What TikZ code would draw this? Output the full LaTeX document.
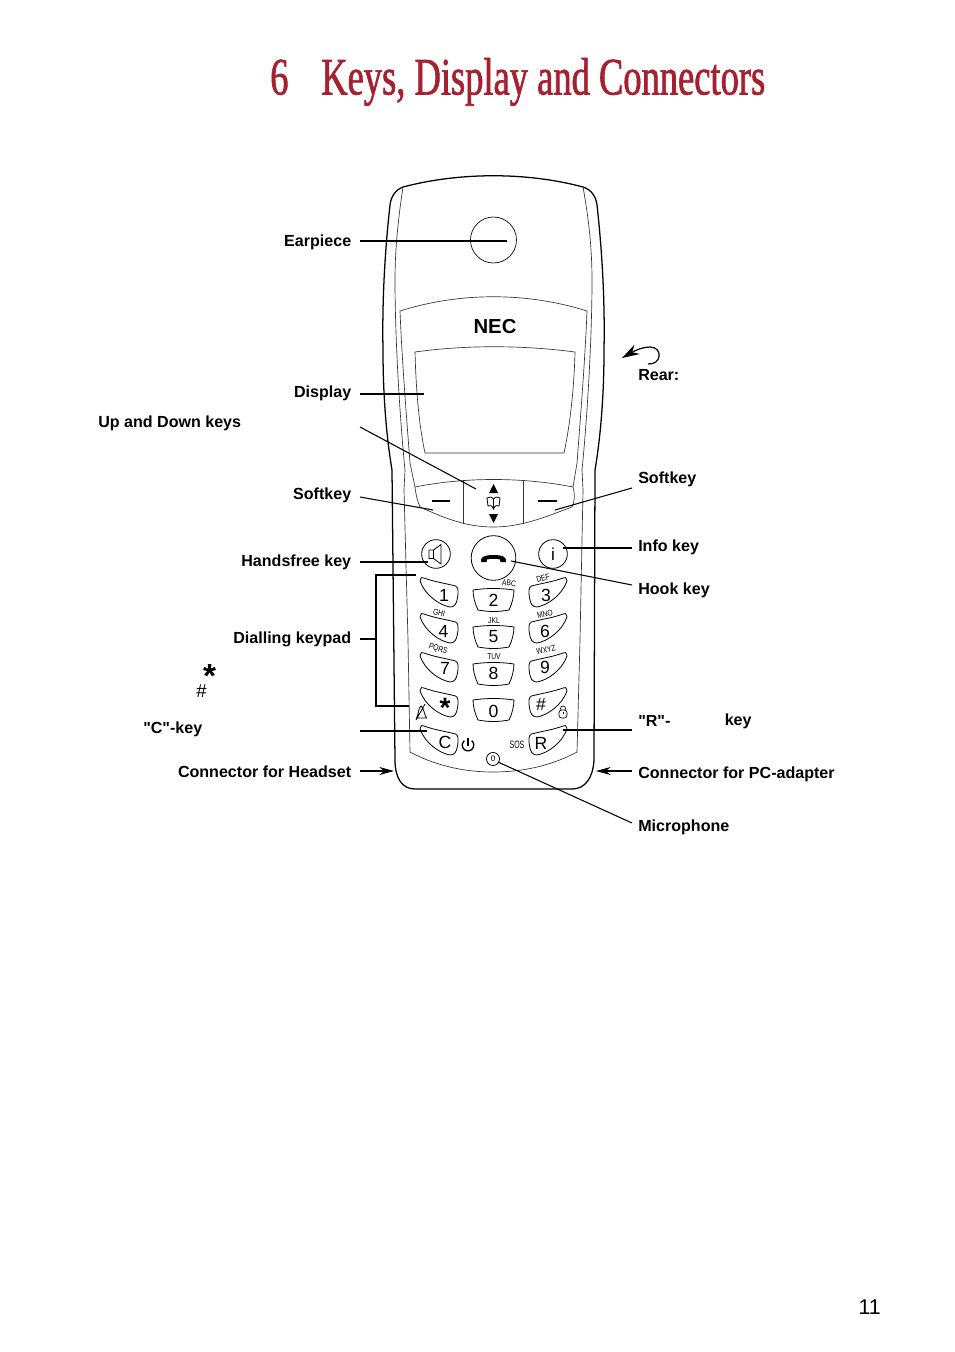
\documentclass[tikz,border=0pt]{standalone}
\usepackage{fontspec}
\setmainfont{Liberation Sans}
\newfontfamily\titlefont[FakeStretch=0.693,FakeBold=1.2]{Liberation Serif}
\newfontfamily\narrowfont[FakeStretch=0.8]{Liberation Sans}
\newfontfamily\sosfont[FakeStretch=0.65]{Liberation Sans}
\newfontfamily\qfont{Liberation Sans}
\usetikzlibrary{arrows.meta}
\definecolor{titlered}{HTML}{A6202F}
\newcommand{\dq}{{\qfont\bfseries\char34\relax}}
\tikzset{
  body/.style={line width=0.95pt,line join=round},
  panel/.style={line width=0.5pt,draw=black!80},
  leader/.style={line width=0.8pt,black},
  arrowed/.style={leader,-{Stealth[length=11pt,width=6pt]}},
  lblL/.style={anchor=east,inner ysep=0pt,inner xsep=6.4pt,font=\bfseries\fontsize{12.05}{14}\selectfont,text depth=3pt},
  lblR/.style={anchor=west,inner ysep=0pt,inner xsep=4.5pt,font=\bfseries\fontsize{12.05}{14}\selectfont,text depth=3pt},
  plain/.style={anchor=base west,inner sep=0pt,font=\bfseries\fontsize{12.05}{14}\selectfont},
  keyshape/.style={line width=0.6pt},
  digit/.style={inner sep=0pt,font=\fontsize{13.2}{14}\selectfont},
  tiny/.style={inner sep=0pt,font=\narrowfont\fontsize{6.3}{7}\selectfont},
}
\newcommand{\sidekey}{(0,3) .. controls (1,-1) and (2,-1) .. (4,0) .. controls (15,4) and (24,5) .. (35.5,8) .. controls (38.5,9) and (38.5,14) .. (37.5,20) .. controls (36.5,26) and (34.5,29) .. (30,29) .. controls (19,27) and (5,17) .. (0,3) -- cycle}
\newcommand{\keyL}[2]{\draw[keyshape,shift={(420,#1)}] \sidekey;}
\newcommand{\keyR}[2]{\draw[keyshape,shift={(567,#1)},xscale=-1] \sidekey;}
\newcommand{\keyM}[1]{\draw[keyshape,shift={(473,#1)}] (0,2) .. controls (13,0) and (28,0) .. (41,2) .. controls (41,8) and (39,16) .. (36,22) .. controls (25,24) and (16,24) .. (5,22) .. controls (2,16) and (0,8) .. (0,2) -- cycle;}
\begin{document}
\begin{tikzpicture}[x=0.75pt,y=-0.75pt]
\path[use as bounding box] (0,0) rectangle (954,1352);
% title
\node[anchor=base west,inner sep=0pt,text=titlered,font=\titlefont\fontsize{39.5}{42}\selectfont] (num) at (270,94.5) {6};
\node[anchor=base west,inner sep=0pt,text=titlered,font=\titlefont\fontsize{39.5}{42}\selectfont] (title) at (321,94.5) {Keys, Display and Connectors};
% phone body
\draw[body] (403,187) .. controls (460,172) and (527,172) .. (583,187)
  .. controls (592,190) and (596,197) .. (597,205)
  .. controls (602,250) and (605,300) .. (604,350)
  .. controls (604,400) and (600,440) .. (595,470)
  -- (594,760) .. controls (593,778) and (585,789) .. (572,789)
  -- (415,789) .. controls (402,789) and (395,778) .. (395,760)
  -- (392,470)
  .. controls (387,440) and (383,400) .. (383,350)
  .. controls (382,300) and (385,250) .. (390,205)
  .. controls (391,197) and (395,190) .. (403,187) -- cycle;
% inner side lines
\draw[panel] (403,187) .. controls (398,220) and (395,250) .. (395,280) .. controls (395,340) and (400,420) .. (405,470) -- (404,490) -- (408,640) -- (410,752) .. controls (440,768) and (470,772) .. (493,772) .. controls (517,772) and (547,768) .. (577,752) -- (580,640) -- (583,490) -- (582,470) .. controls (587,420) and (592,340) .. (592,280) .. controls (592,250) and (589,220) .. (583,187);
% display panel
\draw[panel] (415,487) -- (410,463) .. controls (406,410) and (402,360) .. (400,311) .. controls (460,292) and (527,292) .. (587,311) .. controls (585,360) and (581,410) .. (577,463) -- (573,487);
\draw[panel] (415,352) .. controls (465,345) and (522,345) .. (575,352) .. controls (574,390) and (570,425) .. (564,453) -- (425,453) .. controls (419,425) and (416,390) .. (415,352) -- cycle;
\node[inner sep=0pt,font=\bfseries\fontsize{15.2}{16}\selectfont] (nec) at (495,327) {NEC};
% softkey panel
\draw[panel] (415,487) .. controls (465,477) and (522,477) .. (573,487) .. controls (575,495) and (575,500) .. (572,507) .. controls (545,517) and (522,527) .. (493,527) .. controls (465,527) and (442,517) .. (420,507) .. controls (417,500) and (416,495) .. (415,487) -- cycle;
\draw[panel] (463.5,480) -- (463.5,524);
\draw[panel] (523.5,480) -- (523.5,524);
\draw[line width=0.8pt] (432,501) -- (450,501);
\draw[line width=0.8pt] (538,501) -- (557,501);
\fill (493.5,484) -- (498,493) -- (489,493) -- cycle;
\fill (493.5,523) -- (498,514) -- (489,514) -- cycle;
\draw[line width=0.6pt] (493.5,499) .. controls (491,496) and (489,497) .. (487,498) -- (488,506) .. controls (490,505) and (492,505) .. (493.5,509) .. controls (495,505) and (497,505) .. (499,506) -- (500,498) .. controls (498,497) and (496,496) .. (493.5,499) -- (493.5,509);
% earpiece
\node[draw,circle,line width=0.5pt,minimum size=34.5pt,inner sep=0pt] (ear) at (493.5,240) {};
% function keys
\node[draw,circle,line width=0.6pt,minimum size=21.5pt,inner sep=0pt] (spk) at (436,554) {};
\draw[line width=0.6pt] (429,550) -- (433.5,550) -- (441,544.5) -- (441,564) -- (433.5,558.5) -- (429,558.5) -- cycle (433.5,550) -- (433.5,558.5);
\node[draw,circle,line width=0.6pt,minimum size=33.5pt,inner sep=0pt] (hook) at (493.5,558) {};
\fill (481,562) .. controls (480,558) and (483,555) .. (493.5,555) .. controls (504,555) and (507,558) .. (506,562) -- (500.5,562) -- (500,559.5) .. controls (497,558.5) and (490,558.5) .. (487,559.5) -- (486.5,562) -- cycle;
\node[draw,circle,line width=0.6pt,minimum size=21.5pt,inner sep=0pt,font=\fontsize{13}{14}\selectfont] (info) at (553,554) {i};
% keypad
\foreach \y in {578,614,653,688,726} {\keyL{\y}{}\keyR{\y}{}}
\foreach \y in {588,625,662,698} {\keyM{\y}}
\node[digit] (k1) at (444,595) {1};
\node[digit] (k2) at (493.5,600) {2};
\node[digit] (k3) at (546,595) {3};
\node[digit] (k4) at (443.5,631) {4};
\node[digit] (k5) at (493.5,637) {5};
\node[digit] (k6) at (545,631) {6};
\node[digit] (k7) at (445,668) {7};
\node[digit] (k8) at (493.5,673) {8};
\node[digit] (k9) at (545,667) {9};
\node[inner sep=0pt,font=\bfseries\fontsize{21}{21}\selectfont] (kstar) at (445,708) {*};
\node[digit] (k0) at (493.5,711) {0};
\node[digit] (khash) at (541,704) {\#};
\node[digit] (kc) at (445,742) {C};
\node[digit] (kr) at (541,743) {R};
\node[tiny,rotate=-5] (abc) at (509,583) {ABC};
\node[tiny,rotate=15] (def) at (543,578) {DEF};
\node[tiny,rotate=-14] (ghi) at (439,613) {GHI};
\node[tiny] (jkl) at (494,621) {JKL};
\node[tiny,rotate=12] (mno) at (545,614) {MNO};
\node[tiny,rotate=-18] (pqrs) at (438,649) {PQRS};
\node[tiny] (tuv) at (494,657) {TUV};
\node[tiny,rotate=12] (wxyz) at (546,650) {WXYZ};
\node[inner sep=0pt,font=\sosfont\fontsize{8}{9}\selectfont] (sos) at (517,745) {SOS};
% power symbol
\draw[line width=1pt] (471.7,740.6) arc[start angle=-50,delta angle=280,radius=5.8];
\draw[line width=1pt] (468,737.5) -- (468,746);
% mute bell
\draw[line width=0.6pt] (416.5,718) .. controls (419,714) and (418,708) .. (421,706) .. controls (424,708) and (424,714) .. (426.5,718) -- cycle (416,720) -- (425,704);
% lock
\draw[line width=0.5pt] (563,708.5) circle[radius=2.5];
\draw[line width=0.5pt,rounded corners=2pt,fill=white] (559,710) rectangle (567,718);
\draw[line width=0.5pt] (563,712) -- (563,714);
% microphone
\node[draw,circle,line width=0.6pt,minimum size=9.8pt,inner sep=0pt,font=\fontsize{6}{6}\selectfont] (mic) at (493,759) {0};
% bracket
\coordinate (brT) at (416,575);
\coordinate (brB) at (409,706);
\coordinate (brM) at (376,639);
\draw[leader] (brT) -- (376,575) -- (376,706) -- (brB);
% targets
\coordinate (tEar) at (507,241);
\coordinate (tDisp) at (424,394);
\coordinate (sUp) at (360,427);
\coordinate (tUp) at (476,489);
\coordinate (tSoftL) at (433,510);
\coordinate (tSpk) at (428,562);
\coordinate (sC) at (360,731);
\coordinate (tC) at (427,731);
\coordinate (tHead) at (394,771);
\coordinate (tSoftR) at (555,510);
\coordinate (tInfo) at (563,548);
\coordinate (tHook) at (511,561);
\coordinate (tR) at (563,730);
\coordinate (tPC) at (596,771);
\coordinate (tMic) at (498,762);
% left labels
\node[lblL,text height=10.5pt] (lEar) at (360,241) {Earpiece};
\node[lblL,text height=7.5pt] (lDisp) at (360,394) {Display};
\node[plain] (lUp) at (98,427) {Up and Down keys};
\node[lblL,text height=6pt] (lSoftL) at (360,497) {Softkey};
\node[lblL,text height=9pt] (lSpk) at (360,562) {Handsfree key};
\node[lblL,text height=9pt] (lDial) at (360,639) {Dialling keypad};
\node[inner sep=0pt,font=\bfseries\fontsize{25}{25}\selectfont] (lStar) at (209.5,676) {*};
\node[inner sep=0pt,font=\fontsize{14}{15}\selectfont] (lHash) at (201.5,691.5) {\#};
\node[plain] (lC) at (143,733) {\dq C\dq -key};
\node[lblL,text height=12pt] (lHead) at (360,771) {Connector for Headset};
% right labels
\coordinate (rearA) at (622,358);
\node[plain] (lRear) at (638,380) {Rear:};
\draw[line width=0.9pt,-{Stealth[length=13pt,width=8pt]}] (648,364) .. controls (662,365) and (663,347) .. (650,347) .. controls (643,347) and (636,350) .. (rearA);
\node[lblR,text height=3pt,text depth=10.5pt] (rSoft) at (632,488) {Softkey};
\node[lblR,text height=7.5pt] (rInfo) at (632,548) {Info key};
\node[lblR,text height=16.5pt] (rHook) at (632,585) {Hook key};
\node[lblR,text height=3pt,text depth=9pt] (rR) at (632,730) {\dq R\dq -};
\node[plain] (rKey) at (724.5,725.5) {key};
\node[lblR,text height=13.5pt] (rPC) at (632,771) {Connector for PC-adapter};
\node[lblR,text height=15pt] (rMic) at (632,823) {Microphone};
% connectors
\draw[leader] (lEar.east) -- (tEar);
\draw[leader] (lDisp.east) -- (tDisp);
\draw[leader] (sUp) -- (tUp);
\draw[leader] (lSoftL.east) -- (tSoftL);
\draw[leader] (lSpk.east) -- (tSpk);
\draw[leader] (lDial.east) -- (brM);
\draw[leader] (sC) -- (tC);
\draw[arrowed] (lHead.east) -- (tHead);
\draw[leader] (rSoft.west) -- (tSoftR);
\draw[leader] (rInfo.west) -- (tInfo);
\draw[leader] (rHook.west) -- (tHook);
\draw[leader] (rR.west) -- (tR);
\draw[arrowed] (rPC.west) -- (tPC);
\draw[leader] (rMic.west) -- (tMic);
% page number
\node[anchor=base east,inner sep=0pt,font=\fontsize{16}{18}\selectfont] (page) at (881,1314) {11};
\end{tikzpicture}
\end{document}
